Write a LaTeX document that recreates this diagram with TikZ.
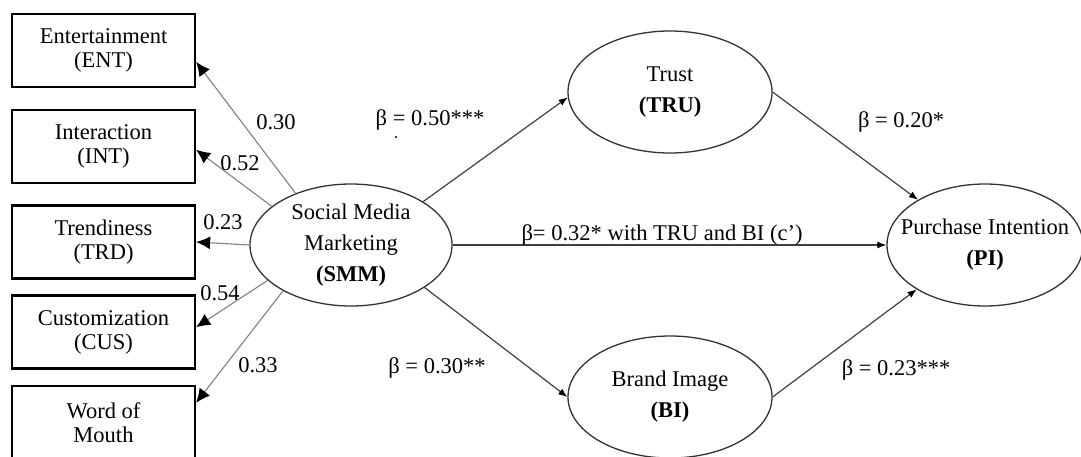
\documentclass[tikz,border=0pt]{standalone}
\usepackage{fontspec}
\setmainfont{Liberation Serif}
\usetikzlibrary{arrows.meta}
\usetikzlibrary{shapes.geometric}

\newcommand{\pathfont}{\fontsize{22.5}{31}\selectfont}
\newcommand{\boxfont}{\fontsize{22.5}{24}\selectfont}

\tikzset{
  box/.style={draw, line width=2.2pt, minimum width=183pt, minimum height=73pt, inner sep=0pt, align=center, font=\boxfont},
  latent/.style={ellipse, draw=black!80, line width=1.3pt, minimum width=204pt, minimum height=122pt, inner sep=0pt},
  inlabel/.style={align=center, font=\pathfont},
  load/.style={draw=black!50, line width=1.1pt, -{Latex[length=14pt,width=13pt,color=black]}},
  effect/.style={draw=black!75, line width=1.2pt, -{Latex[length=9pt,width=7pt,color=black]}},
  coef/.style={anchor=base, font=\pathfont},
}

\begin{document}
\begin{tikzpicture}[x=1pt,y=-1pt]
\clip (0,0) rectangle (1081,456);

\node[box] (ent) at (103.5,50.5) {Entertainment\\(ENT)};
\node[box] (int) at (103.5,146.5) {Interaction\\(INT)};
\node[box] (trd) at (103.5,242) {Trendiness\\(TRD)};
\node[box] (cus) at (103.5,332) {Customization\\(CUS)};
\node[box] (wom) at (103.5,422.5) {Word of\\Mouth};

\node[latent, minimum width=202pt, label={[inlabel]center:Social Media\\Marketing\\\textbf{(SMM)}}] (smm) at (351,245) {};
\node[latent, label={[inlabel]center:Trust\\\textbf{(TRU)}}] (tru) at (670,92) {};
\node[latent, label={[inlabel]center:Brand Image\\\textbf{(BI)}}] (bi) at (670,397) {};
\node[latent, minimum width=196pt, label={[inlabel]center:Purchase Intention\\\textbf{(PI)}}] (pi) at (985,245) {};

\foreach \b/\a/\e in {ent/137/-7, int/154/-2, trd/180/0, cus/203/3, wom/214/12}
	\draw[load] (smm.\a) -- (\b.\e);

\draw[effect] (smm.31) -- (tru.183);
\draw[effect] (smm.330) -- (bi.west);
\draw[effect] (tru.east) -- (pi.146);
\draw[effect] (bi.east) -- (pi.213);
\draw[effect] (smm.east) -- (pi.west);

\node[coef] (l-ent) at (276,129) {0.30};
\node[coef] (l-int) at (240,170) {0.52};
\node[coef] (l-trd) at (223,229) {0.23};
\node[coef] (l-cus) at (220,300) {0.54};
\node[coef] (l-wom) at (258,372) {0.33};

\node[coef] (b-tru) at (430,125) {β = 0.50***};
\fill (396,137) circle (1.2pt);
\node[coef] (b-bi) at (437,373) {β = 0.30**};
\node[coef] (b-trupi) at (901,127) {β = 0.20*};
\node[coef] (b-bipi) at (896,375) {β = 0.23***};
\node[coef] (b-direct) at (662,240) {β= 0.32* with TRU and BI (c')};

\end{tikzpicture}
\end{document}
